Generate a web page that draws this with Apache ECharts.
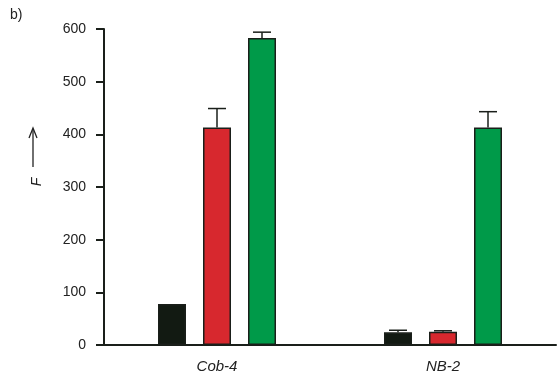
<!DOCTYPE html>
<html><head><meta charset="utf-8">
<script src="https://cdn.jsdelivr.net/npm/echarts@6/dist/echarts.min.js"></script>
<style>html,body{margin:0;padding:0;background:#fff}#c{width:558px;height:379px}</style>
</head><body><div id="c"></div>
<script>
var categories = ['Cob-4', 'NB-2'];
var seriesNames = ['A', 'B', 'C'];
var seriesColors = ['#121a12', '#d7282e', '#009a49'];
var valuesA = [78, 24];
var valuesB = [413, 25];
var valuesC = [583, 413];
var errorsA = [0, 4];
var errorsB = [36, 2];
var errorsC = [11, 30];
var yTicks = [0, 100, 200, 300, 400, 500, 600];

var values = [valuesA, valuesB, valuesC];
var errors = [errorsA, errorsB, errorsC];
var BAR_W = 28, GAP = 17;
var FONT = 'Liberation Sans, Arial, sans-serif';

var chart = echarts.init(document.getElementById('c'));
var series = [];
values.forEach(function (v, i) {
  series.push({
    type: 'bar', name: seriesNames[i], data: v,
    barWidth: BAR_W, barGap: (GAP / BAR_W * 100) + '%',
    itemStyle: { color: seriesColors[i], borderColor: '#1a1f1a', borderWidth: 1.5 },
    z: 2
  });
});
values.forEach(function (v, i) {
  series.push({
    type: 'custom',
    data: v.map(function (val, j) { return [j, val, errors[i][j]]; }),
    renderItem: function (params, api) {
      var j = api.value(0), val = api.value(1), e = api.value(2);
      if (!e) return null;
      var off = (i - 1) * (BAR_W + GAP);
      var p0 = api.coord([j, val]);
      var p1 = api.coord([j, val + e]);
      var x = p0[0] + off;
      var hw = 9;
      return {
        type: 'group', children: [
          { type: 'line', shape: { x1: x, y1: p0[1], x2: x, y2: p1[1] }, style: { stroke: '#1a1f1a', lineWidth: 1.5 } },
          { type: 'line', shape: { x1: x - hw, y1: p1[1], x2: x + hw, y2: p1[1] }, style: { stroke: '#1a1f1a', lineWidth: 1.5 } }
        ]
      };
    },
    z: 1
  });
});

chart.setOption({
  animation: false,
  grid: { left: 104, top: 29, right: 2, bottom: 34 },
  xAxis: {
    type: 'category', data: categories,
    axisLine: { lineStyle: { color: '#1a1f1a', width: 2 } },
    axisTick: { alignWithLabel: true, length: 6, lineStyle: { color: '#1a1f1a', width: 2 } },
    axisLabel: { fontStyle: 'italic', fontSize: 15, color: '#222', fontFamily: FONT, margin: 14 }
  },
  yAxis: {
    type: 'value', min: 0, max: 600, interval: 100,
    axisLine: { show: true, lineStyle: { color: '#1a1f1a', width: 2 } },
    axisTick: { show: true, length: 8, lineStyle: { color: '#1a1f1a', width: 2 } },
    splitLine: { show: false },
    axisLabel: {
      fontSize: 14, color: '#222', fontFamily: FONT, margin: 18,
      formatter: function (v) { return yTicks.indexOf(v) >= 0 ? String(v) : ''; }
    }
  },
  graphic: [
    { type: 'text', left: 10, top: 8, style: { text: 'b)', fontSize: 14, fill: '#222', fontFamily: FONT } },
    { type: 'text', x: 37, y: 182, rotation: Math.PI / 2, style: { text: 'F', fontSize: 14, fontStyle: 'italic', fill: '#222', fontFamily: FONT, align: 'center', verticalAlign: 'middle' } },
    { type: 'line', shape: { x1: 33, y1: 167, x2: 33, y2: 129 }, style: { stroke: '#222', lineWidth: 1.3 } },
    { type: 'polyline', shape: { points: [[29, 138], [33, 128], [37, 138]] }, style: { stroke: '#222', lineWidth: 1.3, fill: null } }
  ],
  series: series
});
</script></body></html>
